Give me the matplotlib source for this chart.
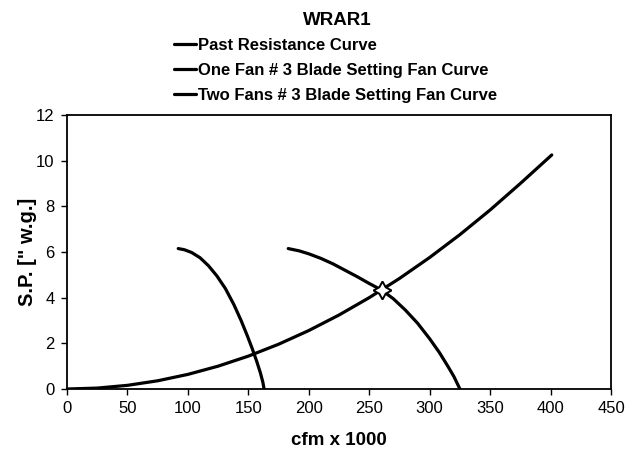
import matplotlib
matplotlib.use("Agg")
import matplotlib.pyplot as plt

plt.rcParams['font.family'] = ['Liberation Sans', 'DejaVu Sans']

# readings (cfm x 1000, S.P. in " w.g.)
resist_x = [0, 25, 50, 75, 100, 125, 150, 175, 200, 225, 250, 275, 300, 325, 350, 375, 401]
resist_y = [0, 0.04, 0.16, 0.36, 0.64, 1.0, 1.44, 1.96, 2.56, 3.24, 4.0, 4.84, 5.76, 6.76, 7.84, 9.0, 10.25]

one_fan_x = [92, 97, 103, 110, 117, 124, 131, 138, 144, 149, 153, 157, 160, 162, 163]
one_fan_y = [6.15, 6.1, 5.98, 5.75, 5.4, 4.95, 4.4, 3.7, 3.0, 2.35, 1.8, 1.2, 0.7, 0.3, 0.0]

two_fan_x = [183, 192, 200, 210, 220, 230, 240, 250, 260, 270, 280, 290, 300, 308, 315, 320, 325]
two_fan_y = [6.15, 6.05, 5.92, 5.72, 5.48, 5.2, 4.92, 4.62, 4.34, 3.95, 3.45, 2.88, 2.2, 1.6, 1.0, 0.55, 0.0]

op_x, op_y = 260.5, 4.35

labels = ["Past Resistance Curve",
          "One Fan # 3 Blade Setting Fan Curve",
          "Two Fans # 3 Blade Setting Fan Curve"]

fig = plt.figure(figsize=(6.37, 4.57), dpi=100)
ax = fig.add_axes([0.1052, 0.1488, 0.8540, 0.5996])

lw = 2.3
style = dict(color="black", lw=lw, solid_capstyle="round", solid_joinstyle="round")
l1, = ax.plot(resist_x, resist_y, **style)
l2, = ax.plot(one_fan_x, one_fan_y, **style)
l3, = ax.plot(two_fan_x, two_fan_y, **style)
ax.plot([op_x], [op_y], marker=(4, 1, 0), ms=13, mfc="white", mec="black", mew=1.4, ls="none")

ax.set_xlim(0, 450)
ax.set_ylim(0, 12)
ax.set_xticks(range(0, 451, 50))
ax.set_yticks(range(0, 13, 2))
ax.tick_params(direction="out", length=4, width=1, labelsize=12, pad=5)
for s in ax.spines.values():
    s.set_linewidth(1.3)

ax.set_xlabel("cfm x 1000", fontsize=13.5, fontweight="bold", labelpad=11)
ax.set_ylabel("S.P. [\" w.g.]", fontsize=14.5, fontweight="bold", labelpad=-1)

fig.text(0.529, 0.955, "WRAR1", ha="center", va="center", fontsize=13.5, fontweight="bold")

fig.legend([l1, l2, l3], labels, loc="upper left", bbox_to_anchor=(0.273, 0.917),
           frameon=False, handlelength=1.35, handletextpad=0.12, labelspacing=0.6,
           borderaxespad=0, borderpad=0,
           prop={"weight": "bold", "size": 12})

fig.savefig("out.png", dpi=100)
